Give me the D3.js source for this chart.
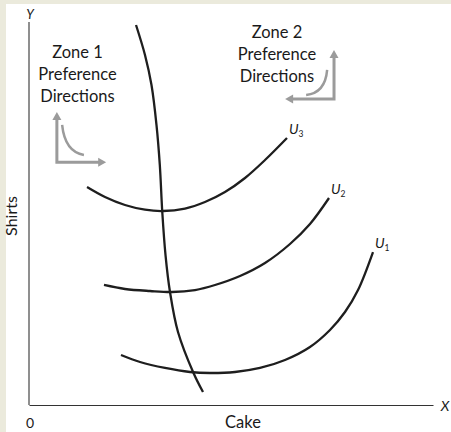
<!DOCTYPE html>
<html><head><meta charset="utf-8">
<script src="https://cdn.jsdelivr.net/npm/d3@7"></script>
<style>
html,body{margin:0;padding:0;background:#fff;}
svg{display:block;}
text{font-family:Lato,"Noto Sans",sans-serif;fill:#1a1a1a;}
</style></head>
<body><svg id="c" width="451" height="432"></svg>
<script>
// ---- data (x: Cake, y: Shirts, arbitrary 0-100 units) ----
const pathX = [26.49,28.71,30.32,31.56,32.38,32.99,33.79,34.90,36.88,40.72,43.07];
const pathY = [100,92.11,84.21,73.68,63.16,50.79,39.47,29.74,19.21,8.42,3.42];

const u3X = [14.36,18.81,23.76,28.71,33.17,38.61,43.56,48.51,53.47,58.42,63.86];
const u3Y = [57.37,54.74,52.63,51.39,51.05,51.71,53.42,56.05,59.74,64.47,70.26];

const u2X = [18.56,23.76,29.95,35.40,41.09,46.04,52.23,58.42,64.60,69.55,74.26];
const u2Y = [31.58,30.53,30.0,29.74,30.26,31.58,33.95,37.37,42.37,47.63,54.47];

const u1X = [22.77,27.48,33.66,39.85,44.80,50.99,57.18,63.37,69.55,74.50,78.22,81.44,85.15];
const u1Y = [13.16,11.32,9.74,8.68,8.42,8.68,9.74,11.84,15.26,19.74,24.47,30.26,40.26];

const curveLabels = ["U3","U2","U1"];
const zoneTitles = ["Zone 1","Zone 2"];
const zoneLines = ["Preference","Directions"];
const xAxisLabel = "Cake", yAxisLabel = "Shirts", originLabel = "0";

// ---- layout ----
const svg = d3.select("#c");
const x = d3.scaleLinear().domain([0,100]).range([29,433]);
const y = d3.scaleLinear().domain([0,100]).range([405,25]);

// beige border strips
svg.append("rect").attr("x",0).attr("y",0).attr("width",451).attr("height",4).attr("fill","#ebeadc");
svg.append("rect").attr("x",0).attr("y",0).attr("width",6).attr("height",432).attr("fill","#ebeadc");

// axes (no ticks)
const gx = svg.append("g").attr("transform",`translate(0,${y(0)})`)
  .call(d3.axisBottom(x).tickValues([]).tickSizeOuter(0));
const gy = svg.append("g").attr("transform",`translate(${x(0)},0)`)
  .call(d3.axisLeft(y).tickValues([]).tickSizeOuter(0));
svg.selectAll(".domain").attr("stroke","#333").attr("stroke-width",1.1);
gy.select(".domain").attr("d",`M0,${y(0)}V22`);

const line = d3.line().x(d=>x(d[0])).y(d=>y(d[1])).curve(d3.curveCatmullRom.alpha(0.5));
const toPts = (xs,ys)=>xs.map((v,i)=>[v,ys[i]]);

[[pathX,pathY],[u3X,u3Y],[u2X,u2Y],[u1X,u1Y]].forEach(([xs,ys])=>{
  svg.append("path").attr("d",line(toPts(xs,ys)))
    .attr("fill","none").attr("stroke","#1e1e1e").attr("stroke-width",2.3)
    .attr("stroke-linecap","butt");
});

// curve labels at ends of each curve
[[u3X,u3Y],[u2X,u2Y],[u1X,u1Y]].forEach(([xs,ys],i)=>{
  const ex = x(xs[xs.length-1]), ey = y(ys[ys.length-1]);
  const t = svg.append("text").attr("x",ex+2).attr("y",ey-4)
    .attr("font-size",14).attr("font-style","italic").attr("font-family","'Open Sans',sans-serif");
  t.append("tspan").text(curveLabels[i][0]);
  t.append("tspan").attr("font-size",8.5).attr("font-style","normal").attr("dy",3).text(curveLabels[i].slice(1));
});

// axis labels
svg.append("text").attr("x",x(0)+1).attr("y",19).attr("text-anchor","middle")
  .attr("font-size",13).attr("font-style","italic").attr("font-family","'Open Sans',sans-serif").text("Y");
svg.append("text").attr("x",445).attr("y",y(0)+6).attr("text-anchor","middle")
  .attr("font-size",14).attr("font-style","italic").attr("font-family","'Open Sans',sans-serif").text("X");
svg.append("text").attr("x",x(0)+1).attr("y",428).attr("text-anchor","middle")
  .attr("font-size",14).text(originLabel);
svg.append("text").attr("x",243).attr("y",428).attr("text-anchor","middle")
  .attr("font-size",16.5).text(xAxisLabel);
svg.append("text").attr("transform","translate(17,216) rotate(-90)").attr("text-anchor","middle")
  .attr("font-size",16).text(yAxisLabel);

// zone texts
const zones = [
  {cx:77.5, base:58, title:zoneTitles[0]},
  {cx:277, base:38, title:zoneTitles[1]}
];
zones.forEach(z=>{
  [z.title, ...zoneLines].forEach((s,i)=>{
    svg.append("text").attr("x",z.cx).attr("y",z.base+i*22).attr("text-anchor","middle")
      .attr("font-size",16.5).text(s);
  });
});

// preference direction icons (data units)
const gray = "#9b9b9b";
function arrowHead(tx,ty,dir){
  const L=8,W=4.5; let p;
  if(dir==='up') p=[[tx,ty],[tx-W,ty+L],[tx+W,ty+L]];
  if(dir==='right') p=[[tx,ty],[tx-L,ty-W],[tx-L,ty+W]];
  if(dir==='left') p=[[tx,ty],[tx+L,ty-W],[tx+L,ty+W]];
  svg.append("path").attr("d","M"+p.map(q=>q.join(",")).join("L")+"Z").attr("fill",gray);
}
const icons = [
  {corner:[6.9,63.9], up:77.1, side:19.1, dir:'right', curve:[[8.2,73.7],[8.9,66.6],[13.6,65.8]]},
  {corner:[75.5,80.5], up:93.4, side:63.4, dir:'left', curve:[[73.8,88.2],[73.3,82.1],[68.6,81.6]]}
];
icons.forEach(ic=>{
  const cx=x(ic.corner[0]), cy=y(ic.corner[1]), uy=y(ic.up), sx=x(ic.side);
  const sgn = ic.dir==='right'?1:-1;
  svg.append("path").attr("d",`M${cx},${uy+7}V${cy}H${sx-sgn*7}`)
    .attr("fill","none").attr("stroke",gray).attr("stroke-width",3);
  arrowHead(cx,uy,'up');
  arrowHead(sx,cy,ic.dir);
  const c=ic.curve.map(p=>[x(p[0]),y(p[1])]);
  svg.append("path").attr("d",`M${c[0]}Q${c[1]} ${c[2]}`)
    .attr("fill","none").attr("stroke",gray).attr("stroke-width",2.5);
});
</script></body></html>
